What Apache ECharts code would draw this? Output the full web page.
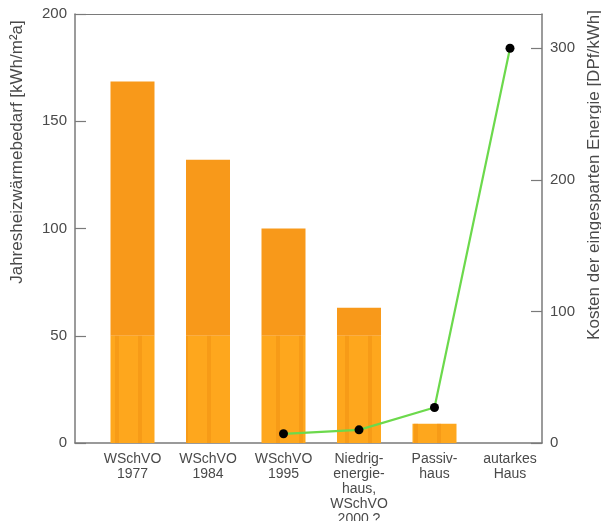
<!DOCTYPE html>
<html>
<head>
<meta charset="utf-8">
<script src="https://cdn.jsdelivr.net/npm/echarts@6/dist/echarts.min.js"></script>
<style>
  html, body { margin: 0; padding: 0; background: #fff; }
  #chart { width: 601px; height: 521px; }
</style>
</head>
<body>
<div id="chart"></div>
<script>
// House standards on the category axis
const categories = [
  'WSchVO\n1977',
  'WSchVO\n1984',
  'WSchVO\n1995',
  'Niedrig-\nenergie-\nhaus,\nWSchVO\n2000 ?',
  'Passiv-\nhaus',
  'autarkes\nHaus'
];

// Annual heating demand, kWh/m²a (left axis)
const heatingDemand = [168.5, 132, 100, 63, 9, null];

// Cost of the energy saved, DPf/kWh (right axis)
const savingCost = [null, null, 7, 10, 27, 300];

// Left and right axis tick values
const leftTicks = [0, 50, 100, 150, 200];
const rightTicks = [0, 100, 200, 300];

// The lower part of each bar (up to 50) is drawn in a lighter shade
const BASE_SPLIT = 50;
const lowerPart = heatingDemand.map(v => v == null ? null : Math.min(v, BASE_SPLIT));
const upperPart = heatingDemand.map(v => v == null ? null : Math.max(v - BASE_SPLIT, 0));

const textColor = '#4a4a4a';
const axisColor = '#7a7a7a';
const font = '"Liberation Sans", Arial, sans-serif';

const chart = echarts.init(document.getElementById('chart'), null, { renderer: 'canvas' });

chart.setOption({
  animation: false,
  backgroundColor: '#ffffff',
  textStyle: { fontFamily: font, color: textColor },
  grid: [
    // data grid (category bands)
    { left: 94.75, right: 53.25, top: 14, bottom: 78, outerBoundsMode: 'none', containLabel: false },
    // frame grid (axes, ticks, border lines)
    { left: 75, right: 59, top: 14, bottom: 78, outerBoundsMode: 'none', containLabel: false }
  ],
  xAxis: [
    {
      type: 'category', gridIndex: 0, data: categories,
      axisLine: { show: false }, axisTick: { show: false },
      axisLabel: {
        color: textColor, fontSize: 14, lineHeight: 15, margin: 9,
        fontFamily: font, interval: 0
      }
    },
    {
      type: 'value', gridIndex: 1, position: 'bottom', min: 0, max: 1,
      axisLine: { show: true, onZero: false, lineStyle: { color: axisColor, width: 1.5 } },
      axisTick: { show: false }, axisLabel: { show: false }, splitLine: { show: false }
    },
    {
      type: 'value', gridIndex: 1, position: 'top', min: 0, max: 1,
      axisLine: { show: true, onZero: false, lineStyle: { color: axisColor, width: 1.2 } },
      axisTick: { show: false }, axisLabel: { show: false }, splitLine: { show: false }
    }
  ],
  yAxis: [
    // data scales (hidden)
    { type: 'value', gridIndex: 0, position: 'left', min: 0, max: 200, show: false },
    { type: 'value', gridIndex: 0, position: 'right', min: 0, max: 326, show: false },
    // visible left axis
    {
      type: 'value', gridIndex: 1, position: 'left', min: leftTicks[0],
      max: leftTicks[leftTicks.length - 1], interval: 50,
      axisLine: { show: true, onZero: false, lineStyle: { color: axisColor, width: 1.5 } },
      axisTick: { show: true, inside: true, length: 11, lineStyle: { color: axisColor, width: 1.2 } },
      axisLabel: { color: textColor, fontSize: 15, margin: 8, fontFamily: font },
      splitLine: { show: false }
    },
    // visible right axis
    {
      type: 'value', gridIndex: 1, position: 'right', min: rightTicks[0], max: 326, interval: 100,
      axisLine: { show: true, onZero: false, lineStyle: { color: axisColor, width: 1.5 } },
      axisTick: { show: true, inside: true, length: 11, lineStyle: { color: axisColor, width: 1.2 } },
      axisLabel: {
        color: textColor, fontSize: 15, margin: 8, fontFamily: font,
        showMaxLabel: false,
        formatter: v => rightTicks.indexOf(v) >= 0 ? String(v) : ''
      },
      splitLine: { show: false }
    }
  ],
  series: [
    {
      type: 'bar', name: 'lower', xAxisIndex: 0, yAxisIndex: 0, stack: 'demand',
      data: lowerPart, barWidth: 44,
      itemStyle: {
        color: '#fea71d',
        decal: {
          symbol: 'rect', symbolSize: 1,
          dashArrayX: [[4, 19]], dashArrayY: [1, 0],
          color: 'rgba(240,140,15,0.45)'
        }
      }
    },
    {
      type: 'bar', name: 'upper', xAxisIndex: 0, yAxisIndex: 0, stack: 'demand',
      data: upperPart, barWidth: 44,
      itemStyle: { color: '#f8991a' }
    },
    {
      type: 'line', name: 'cost', xAxisIndex: 0, yAxisIndex: 1,
      data: savingCost, connectNulls: false,
      symbol: 'circle', symbolSize: 9,
      lineStyle: { color: '#6cd94c', width: 2.2 },
      itemStyle: { color: '#000000' },
      z: 5
    },
    // empty series that keeps the frame grid's axes in use
    {
      type: 'scatter', xAxisIndex: 1, yAxisIndex: 2, data: [], silent: true
    }
  ],
  graphic: [
    {
      type: 'text', x: 17, y: 152, rotation: Math.PI / 2,
      style: {
        text: 'Jahresheizwärmebedarf [kWh/m²a]',
        fill: textColor, font: '17px ' + font,
        align: 'center', verticalAlign: 'middle'
      }
    },
    {
      type: 'text', x: 594, y: 175, rotation: Math.PI / 2,
      style: {
        text: 'Kosten der eingesparten Energie [DPf/kWh]',
        fill: textColor, font: '17px ' + font,
        align: 'center', verticalAlign: 'middle'
      }
    }
  ]
});
</script>
</body>
</html>
